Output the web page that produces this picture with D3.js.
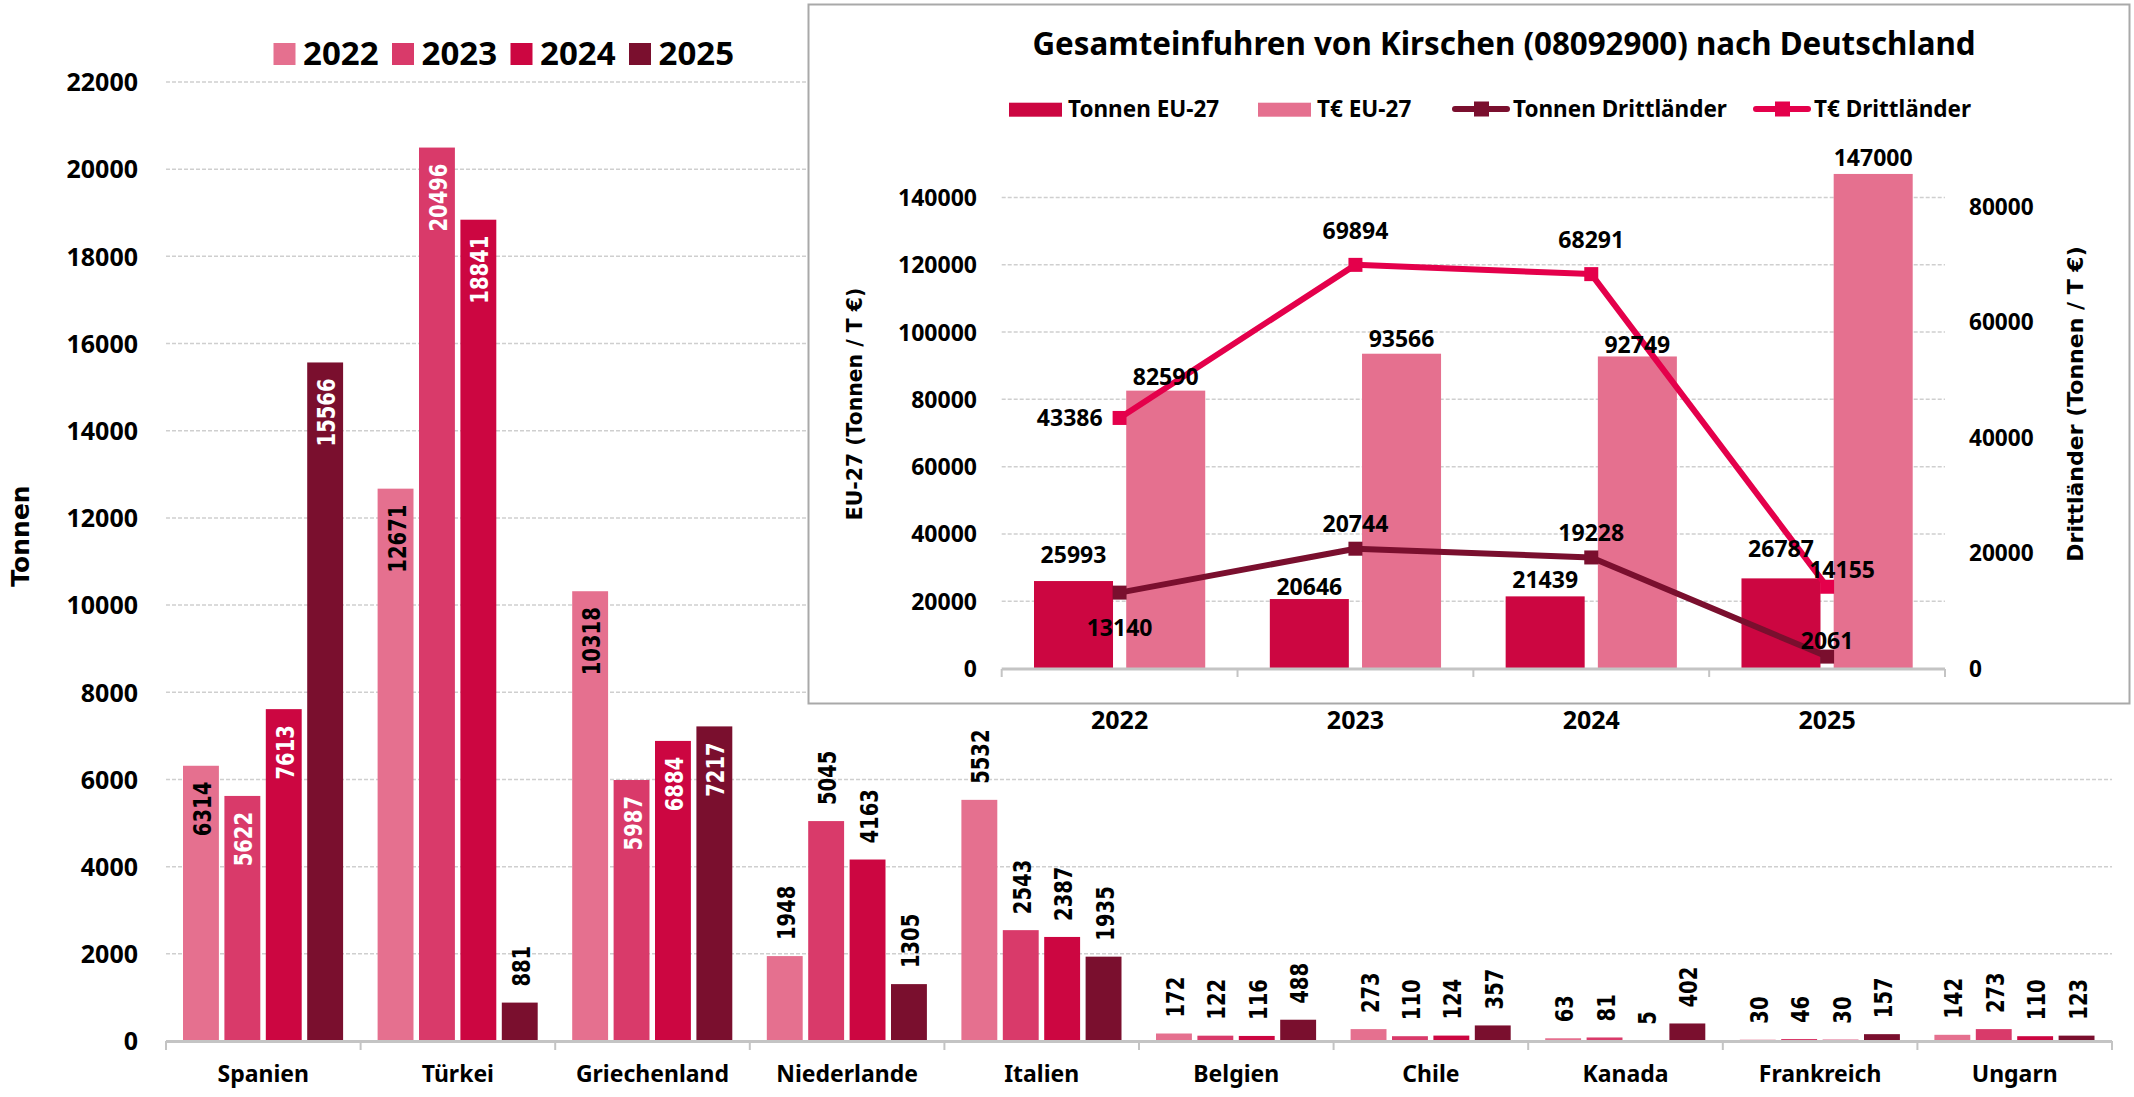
<!DOCTYPE html>
<html>
<head>
<meta charset="utf-8">
<script src="https://cdn.jsdelivr.net/npm/d3@7"></script>
<style>
  body { margin: 0; background: #fff; }
  text { font-family: "Noto Sans", "Open Sans", sans-serif; font-weight: bold; fill: #000; }
  .val { font-family: "DejaVu Sans", Verdana, sans-serif; }
</style>
</head>
<body>
<div id="chart"></div>
<script>
// ---- Hauptdiagramm: Einfuhren nach Herkunftsland (Tonnen) ----
const countries = ['Spanien', 'Türkei', 'Griechenland', 'Niederlande', 'Italien', 'Belgien', 'Chile', 'Kanada', 'Frankreich', 'Ungarn'];
const years = ['2022', '2023', '2024', '2025'];
const tonnen2022 = [6314, 12671, 10318, 1948, 5532, 172, 273, 63, 30, 142];
const tonnen2023 = [5622, 20496, 5987, 5045, 2543, 122, 110, 81, 46, 273];
const tonnen2024 = [7613, 18841, 6884, 4163, 2387, 116, 124, 5, 30, 110];
const tonnen2025 = [15566, 881, 7217, 1305, 1935, 488, 357, 402, 157, 123];
const mainTicks = [0, 2000, 4000, 6000, 8000, 10000, 12000, 14000, 16000, 18000, 20000, 22000];

// ---- Einschub: Gesamteinfuhren ----
const insetYears = ['2022', '2023', '2024', '2025'];
const tonnenEU = [25993, 20646, 21439, 26787];
const teurEU = [82590, 93566, 92749, 147000];
const tonnenDritt = [13140, 20744, 19228, 2061];
const teurDritt = [43386, 69894, 68291, 14155];
const leftTicks = [0, 20000, 40000, 60000, 80000, 100000, 120000, 140000];
const rightTicks = [0, 20000, 40000, 60000, 80000];

const series = [tonnen2022, tonnen2023, tonnen2024, tonnen2025];
const yearColors = ['#e5708f', '#d93a6a', '#cc0641', '#7a0f2e'];
const colEU = '#cc0641', colEUeur = '#e5708f', colDritt = '#7a0f2e', colDritteur = '#e4004b';
const gridColor = '#cfcfcf', axisColor = '#c4c4c4';

const W = 2134, H = 1097;
const svg = d3.select('#chart').append('svg').attr('width', W).attr('height', H);

// scales
const x0 = d3.scaleBand().domain(countries).range([166, 2112]);
const x1 = d3.scaleBand().domain(years).range([17, x0.bandwidth() - 17.5]).paddingInner(0.133);
const y = d3.scaleLinear().domain([0, 22000]).range([1041, 82]);

// gridlines
svg.append('g').selectAll('line').data(mainTicks.filter(d => d > 0)).enter().append('line')
  .attr('x1', 166).attr('x2', 2112)
  .attr('y1', d => y(d)).attr('y2', d => y(d))
  .attr('stroke', gridColor).attr('stroke-width', 1.5).attr('stroke-dasharray', '4 2');

// y-Achse
const yAxis = svg.append('g').attr('transform', 'translate(138,0)')
  .call(d3.axisLeft(y).tickValues(mainTicks).tickSize(0).tickPadding(0).tickFormat(d3.format('d')));
yAxis.select('.domain').remove();
yAxis.selectAll('text').attr('font-size', 25).attr('font-family', null).attr('dy', '0.35em');

svg.append('text').attr('class', 'val')
  .attr('transform', 'translate(20,536) rotate(-90)')
  .attr('text-anchor', 'middle').attr('dy', '0.36em')
  .attr('font-size', 25).text('Tonnen');

// bars
const groups = svg.append('g').selectAll('g').data(countries).enter().append('g')
  .attr('transform', d => 'translate(' + x0(d) + ',0)');

groups.each(function (c, i) {
  const g = d3.select(this);
  years.forEach((yr, j) => {
    const v = series[j][i];
    const bx = x1(yr);
    g.append('rect')
      .attr('x', bx).attr('y', y(v))
      .attr('width', x1.bandwidth()).attr('height', y(0) - y(v))
      .attr('fill', yearColors[j]);
    // hohe Balken: Beschriftung innen, sonst darüber
    const inside = v > 5600;
    const ty = inside ? y(v) + 16 : y(v) - 16;
    const txt = String(v);
    g.append('text').attr('class', 'val')
      .attr('transform', 'translate(' + (bx + x1.bandwidth() / 2 + 1) + ',' + ty + ') rotate(-90)')
      .attr('text-anchor', inside ? 'end' : 'start')
      .attr('dy', '0.36em')
      .attr('font-size', 25)
      .attr('textLength', txt.length * 13.6).attr('lengthAdjust', 'spacingAndGlyphs')
      .style('fill', inside && j > 0 ? '#fff' : '#000')
      .text(txt);
  });
});

// x-Achse
svg.append('line').attr('x1', 166).attr('x2', 2112).attr('y1', y(0) + 0.5).attr('y2', y(0) + 0.5)
  .attr('stroke', axisColor).attr('stroke-width', 3);
const bounds = countries.map(c => x0(c)).concat([x0.range()[1]]);
svg.append('g').selectAll('line').data(bounds).enter().append('line')
  .attr('x1', d => d).attr('x2', d => d).attr('y1', y(0)).attr('y2', y(0) + 9)
  .attr('stroke', axisColor).attr('stroke-width', 2);
svg.append('g').selectAll('text').data(countries).enter().append('text')
  .attr('x', d => x0(d) + x0.bandwidth() / 2).attr('y', 1082)
  .attr('text-anchor', 'middle').attr('font-size', 23).text(d => d);

// Legende
const leg = svg.append('g').selectAll('g').data(years).enter().append('g')
  .attr('transform', (d, i) => 'translate(' + (273.5 + i * 118.5) + ',43)');
leg.append('rect').attr('width', 22).attr('height', 22).attr('fill', (d, i) => yearColors[i]);
leg.append('text').attr('x', 29.5).attr('y', 22).attr('font-size', 33).text(d => d);

// ---- Einschub ----
const inset = svg.append('g');
inset.append('rect').attr('x', 808.5).attr('y', 4.5).attr('width', 1321).attr('height', 699)
  .attr('fill', '#fff').attr('stroke', '#a9a9a9').attr('stroke-width', 2);

inset.append('text').attr('x', 1504).attr('y', 55).attr('text-anchor', 'middle')
  .attr('font-size', 31.3).text('Gesamteinfuhren von Kirschen (08092900) nach Deutschland');

const ix0 = d3.scaleBand().domain(insetYears).range([1001.7, 1945]);
const ix1 = d3.scaleBand().domain(['t', 'e']).range([32.3, ix0.bandwidth() - 32.3]).paddingInner(0.143);
const yl = d3.scaleLinear().domain([0, 140000]).range([668.5, 197.5]);
const yr = d3.scaleLinear().domain([0, 80000]).range([668.5, 206.5]);

inset.append('g').selectAll('line').data(leftTicks.filter(d => d > 0)).enter().append('line')
  .attr('x1', 1001.7).attr('x2', 1945).attr('y1', d => yl(d)).attr('y2', d => yl(d))
  .attr('stroke', gridColor).attr('stroke-width', 1.5).attr('stroke-dasharray', '4 2');

const la = inset.append('g').attr('transform', 'translate(977,0)')
  .call(d3.axisLeft(yl).tickValues(leftTicks).tickSize(0).tickPadding(0).tickFormat(d3.format('d')));
la.select('.domain').remove();
la.selectAll('text').attr('font-size', 23).attr('font-family', null).attr('dy', '0.35em');

const ra = inset.append('g').attr('transform', 'translate(1969,0)')
  .call(d3.axisRight(yr).tickValues(rightTicks).tickSize(0).tickPadding(0).tickFormat(d3.format('d')));
ra.select('.domain').remove();
ra.selectAll('text').attr('font-size', 22.6).attr('font-family', null).attr('dy', '0.35em');

inset.append('text').attr('class', 'val')
  .attr('transform', 'translate(855,404) rotate(-90)').attr('text-anchor', 'middle').attr('dy', '0.36em')
  .attr('font-size', 20.4).text('EU-27 (Tonnen / T €)');
inset.append('text').attr('class', 'val')
  .attr('transform', 'translate(2075,404) rotate(-90)').attr('text-anchor', 'middle').attr('dy', '0.36em')
  .attr('font-size', 22).text('Drittländer (Tonnen / T €)');

// Balken Einschub
const barSets = [
  { key: 't', vals: tonnenEU, color: colEU, nudge: [-26, -12, -16, -29] },
  { key: 'e', vals: teurEU, color: colEUeur, nudge: [-14, -15, -12, -16] }
];
barSets.forEach(s => {
  s.vals.forEach((v, i) => {
    const bx = ix0(insetYears[i]) + ix1(s.key);
    inset.append('rect').attr('x', bx).attr('y', yl(v))
      .attr('width', ix1.bandwidth()).attr('height', yl(0) - yl(v)).attr('fill', s.color);
  });
});

// x-Achse Einschub
inset.append('line').attr('x1', 1001.7).attr('x2', 1945).attr('y1', 669).attr('y2', 669)
  .attr('stroke', axisColor).attr('stroke-width', 3);
const ib = insetYears.map(d => ix0(d)).concat([ix0.range()[1]]);
inset.append('g').selectAll('line').data(ib).enter().append('line')
  .attr('x1', d => d).attr('x2', d => d).attr('y1', 669).attr('y2', 677)
  .attr('stroke', axisColor).attr('stroke-width', 2);
inset.append('g').selectAll('text').data(insetYears).enter().append('text')
  .attr('x', d => ix0(d) + ix0.bandwidth() / 2).attr('y', 729)
  .attr('text-anchor', 'middle').attr('font-size', 25).text(d => d);

// Linien
const cx = i => ix0(insetYears[i]) + ix0.bandwidth() / 2;
const lineGen = d3.line().x((d, i) => cx(i)).y(d => yr(d));
const lineSets = [
  { vals: tonnenDritt, color: colDritt, off: [[0, 35, 'middle'], [0, -25, 'middle'], [0, -25, 'middle'], [0, -16, 'middle']] },
  { vals: teurDritt, color: colDritteur, off: [[-17, 0, 'end'], [0, -34, 'middle'], [0, -34, 'middle'], [15, -17, 'middle']] }
];
lineSets.forEach(s => {
  inset.append('path').datum(s.vals).attr('d', lineGen)
    .attr('fill', 'none').attr('stroke', s.color).attr('stroke-width', 6).attr('stroke-linejoin', 'round');
  inset.append('g').selectAll('rect').data(s.vals).enter().append('rect')
    .attr('x', (d, i) => cx(i) - 7).attr('y', d => yr(d) - 7)
    .attr('width', 14).attr('height', 14).attr('fill', s.color);
});

// Datenbeschriftungen Einschub
barSets.forEach(s => {
  s.vals.forEach((v, i) => {
    inset.append('text')
      .attr('x', ix0(insetYears[i]) + ix1(s.key) + ix1.bandwidth() / 2)
      .attr('y', yl(v) + s.nudge[i]).attr('dy', '0.35em')
      .attr('text-anchor', 'middle').attr('font-size', 23).text(v);
  });
});
lineSets.forEach(s => {
  s.vals.forEach((v, i) => {
    inset.append('text')
      .attr('x', cx(i) + s.off[i][0]).attr('y', yr(v) + s.off[i][1]).attr('dy', '0.35em')
      .attr('text-anchor', s.off[i][2]).attr('font-size', 23).text(v);
  });
});

// Legende Einschub
const iLeg = [
  { name: 'Tonnen EU-27', type: 'bar', color: colEU, x: 1009 },
  { name: 'T€ EU-27', type: 'bar', color: colEUeur, x: 1258 },
  { name: 'Tonnen Drittländer', type: 'line', color: colDritt, x: 1452 },
  { name: 'T€ Drittländer', type: 'line', color: colDritteur, x: 1753 }
];
iLeg.forEach(l => {
  const g = inset.append('g').attr('transform', 'translate(' + l.x + ',0)');
  if (l.type === 'bar') {
    g.append('rect').attr('x', 0).attr('y', 102.7).attr('width', 53).attr('height', 14).attr('fill', l.color);
  } else {
    g.append('line').attr('x1', 3).attr('x2', 55).attr('y1', 109).attr('y2', 109)
      .attr('stroke', l.color).attr('stroke-width', 6).attr('stroke-linecap', 'round');
    g.append('rect').attr('x', 22).attr('y', 101.5).attr('width', 15).attr('height', 15).attr('fill', l.color);
  }
  g.append('text').attr('x', l.type === 'bar' ? 59 : 61).attr('y', 117.3).attr('font-size', 22.5).text(l.name);
});
</script>
</body>
</html>
